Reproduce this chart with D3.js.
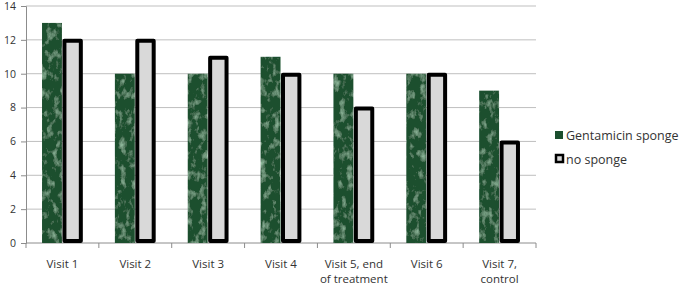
<!DOCTYPE html>
<html><head><meta charset="utf-8">
<script src="https://cdn.jsdelivr.net/npm/d3@7"></script>
<style>body{margin:0;background:#fff;} text{font-family:"Open Sans",sans-serif;fill:#333;}</style>
</head><body><svg id="c" width="682" height="287"></svg>
<script>
const categories = ["Visit 1","Visit 2","Visit 3","Visit 4","Visit 5, end|of treatment","Visit 6","Visit 7,|control"];
const seriesNames = ["Gentamicin sponge","no sponge"];
const gentamicin = [13,10,10,11,10,10,9];
const noSponge = [12,12,11,10,8,10,6];
const yTicks = [0,2,4,6,8,10,12,14];

const svg = d3.select("#c");
const defs = svg.append("defs");
const f = defs.append("filter").attr("id","marble").attr("x",0).attr("y",0).attr("width",1).attr("height",1);
f.append("feTurbulence").attr("type","fractalNoise").attr("baseFrequency","0.15 0.1").attr("numOctaves",4).attr("seed",7).attr("result","n");
f.append("feColorMatrix").attr("in","n").attr("type","matrix")
 .attr("values","0 0 0 0 0.30  0 0 0 0 0.52  0 0 0 0 0.36  0 0 0 2.2 -1.15").attr("result","c");
f.append("feComposite").attr("in","c").attr("in2","SourceGraphic").attr("operator","atop");

const y = d3.scaleLinear().domain([0,14]).range([243,6]);
const x0 = d3.scaleBand().domain(categories).range([26,536]).paddingInner(0.44).paddingOuter(0.22);
const x1 = d3.scaleBand().domain(seriesNames).range([0,x0.bandwidth()]);

// gridlines
svg.append("g").selectAll("line").data(yTicks.filter(d=>d>0)).join("line")
 .attr("x1",26).attr("x2",536).attr("y1",d=>y(d)).attr("y2",d=>y(d))
 .attr("stroke","#bfbfbf").attr("stroke-width",1);

// y axis
const ya = svg.append("g").attr("transform","translate(26,0)")
 .call(d3.axisLeft(y).tickValues(yTicks).tickSize(5).tickPadding(5));
ya.select(".domain").attr("stroke","#8c8c8c");
ya.selectAll(".tick line").attr("stroke","#8c8c8c");
ya.selectAll("text").attr("font-size","10.5px").attr("fill","#333").attr("font-family","Open Sans");

// x axis
const step = x0.step();
const xa = svg.append("g").attr("transform","translate(0,243)");
xa.append("line").attr("x1",26).attr("x2",536).attr("stroke","#8c8c8c");
const bounds = [26].concat(categories.map(c=>x0(c)+x0.bandwidth()+ (step-x0.bandwidth())/2));
xa.selectAll("line.t").data(bounds).join("line").attr("class","t")
 .attr("x1",d=>d).attr("x2",d=>d).attr("y1",0).attr("y2",5).attr("stroke","#8c8c8c");
const lbl = xa.selectAll("text.l").data(categories).join("text").attr("class","l")
 .attr("text-anchor","middle").attr("font-size","11.5px")
 .attr("x",d=>x0(d)+x0.bandwidth()/2).attr("y",25);
lbl.each(function(d){
  const parts=d.split("|"); const t=d3.select(this);
  parts.forEach((p,i)=>t.append("tspan").attr("x",x0(d)+x0.bandwidth()/2).attr("dy",i?15:0).text(p));
});

// bars
const g = svg.append("g");
g.selectAll("rect.g").data(gentamicin).join("rect").attr("class","g")
 .attr("x",(d,i)=>x0(categories[i])+x1(seriesNames[0]))
 .attr("width",x1.bandwidth()-0.5)
 .attr("y",d=>y(d)).attr("height",d=>243-y(d))
 .attr("fill","#1b4f2e").attr("filter","url(#marble)");
const sw=4;
g.selectAll("rect.n").data(noSponge).join("rect").attr("class","n")
 .attr("x",(d,i)=>x0(categories[i])+x1(seriesNames[1])+sw/2)
 .attr("width",x1.bandwidth()-sw)
 .attr("y",d=>y(d)+sw/2-1).attr("height",d=>243-y(d)-sw+1)
 .attr("fill","#d9d9d9").attr("stroke","#000").attr("stroke-width",sw).attr("stroke-linejoin","round");

// legend
const lg = svg.append("g").attr("transform","translate(555,0)");
lg.append("rect").attr("x",0).attr("y",131).attr("width",8).attr("height",8).attr("fill","#1b4f2e");
lg.append("rect").attr("x",1).attr("y",155).attr("width",7).attr("height",7).attr("fill","#d9d9d9").attr("stroke","#000").attr("stroke-width",2.5);
lg.append("text").attr("x",11).attr("y",139.5).attr("font-size","12.5px").text(seriesNames[0]);
lg.append("text").attr("x",11).attr("y",163.5).attr("font-size","12.5px").text(seriesNames[1]);
</script></body></html>
